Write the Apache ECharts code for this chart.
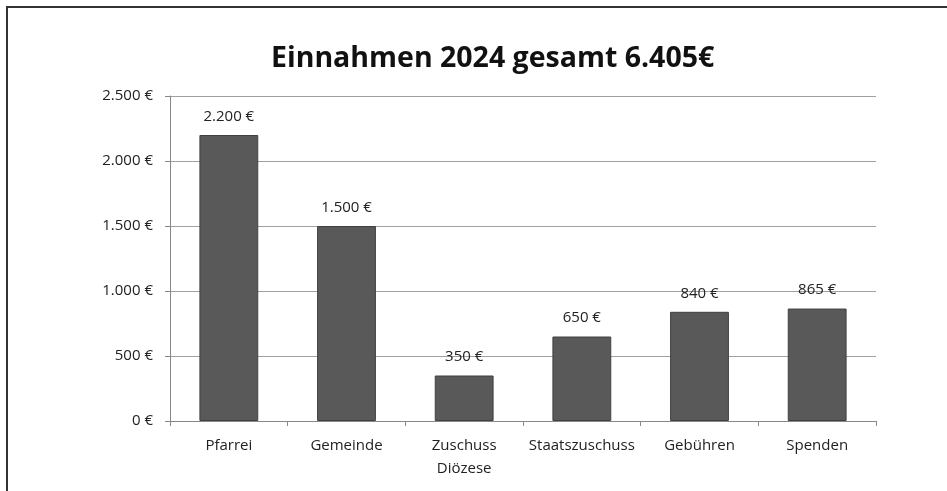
<!DOCTYPE html>
<html>
<head>
<meta charset="utf-8">
<script src="https://cdn.jsdelivr.net/npm/echarts@6/dist/echarts.min.js"></script>
<style>
  html, body { margin: 0; padding: 0; background: #fff; }
  #chart { width: 947px; height: 491px; }
</style>
</head>
<body>
<div id="chart"></div>
<script>
// Daten
const categories = ['Pfarrei', 'Gemeinde', 'Zuschuss\nDiözese', 'Staatszuschuss', 'Gebühren', 'Spenden'];
const values = [2200, 1500, 350, 650, 840, 865];
const titleText = 'Einnahmen 2024 gesamt 6.405€';

// Zahl im deutschen Format
const fmtEuro = (v) => v.toLocaleString('de-DE') + ' €';

const chart = echarts.init(document.getElementById('chart'), null, { renderer: 'canvas' });
const font = 'Open Sans';

const option = {
    animation: false,
    backgroundColor: '#fff',
    textStyle: { fontFamily: font },
    title: {
        text: titleText,
        left: 266,
        top: 39,
        textStyle: { fontFamily: font, fontSize: 28.5, fontWeight: 'bold', color: '#111' }
    },
    graphic: [
        {
            type: 'rect',
            shape: { x: 7, y: 7, width: 1000, height: 600 },
            style: { fill: 'none', stroke: '#333', lineWidth: 2 },
            silent: true
        }
    ],
    grid: { left: 170, right: 71, top: 96, bottom: 70 },
    xAxis: {
        type: 'category',
        data: categories,
        axisLine: { lineStyle: { color: '#888' } },
        axisTick: { show: true, length: 5, lineStyle: { color: '#888' } },
        axisLabel: { fontSize: 15, color: '#222', margin: 13, lineHeight: 23, interval: 0 }
    },
    yAxis: {
        type: 'value',
        min: 0,
        max: 2500,
        interval: 500,
        axisLine: { show: true, lineStyle: { color: '#888' } },
        axisTick: { show: true, length: 5, lineStyle: { color: '#888' } },
        splitLine: { lineStyle: { color: '#a0a0a0' } },
        axisLabel: { fontSize: 15, color: '#222', margin: 17, formatter: fmtEuro }
    },
    series: [
        {
            type: 'bar',
            data: values,
            barWidth: '50%',
            itemStyle: { color: '#595959', borderColor: '#404040', borderWidth: 1 },
            label: {
                show: true,
                position: 'top',
                distance: 11,
                fontSize: 15,
                color: '#222',
                formatter: (p) => fmtEuro(p.value)
            }
        }
    ]
};

chart.setOption(option);
window.addEventListener('resize', chart.resize);
</script>
</body>
</html>
